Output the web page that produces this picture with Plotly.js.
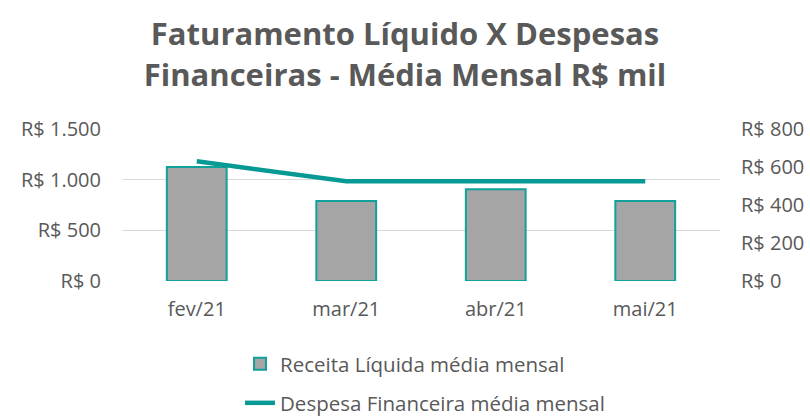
<!DOCTYPE html>
<html><head><meta charset="utf-8">
<script src="https://cdn.plot.ly/plotly-3.0.1.min.js"></script>
<style>html,body{margin:0;padding:0;background:#fff}#c{width:810px;height:420px}</style>
</head><body><div id="c"></div>
<script>
const categories = ['fev/21', 'mar/21', 'abr/21', 'mai/21'];
const receita = [1125, 790, 905, 790];
const despesa = [630, 525, 525, 525];
const seriesNames = ['Receita Líquida média mensal', 'Despesa Financeira média mensal'];
const leftTickVals = [0, 500, 1000, 1500];
const leftTickText = ['R$ 0', 'R$ 500', 'R$ 1.000', 'R$ 1.500'];
const rightTickVals = [0, 200, 400, 600, 800];
const rightTickText = ['R$ 0', 'R$ 200', 'R$ 400', 'R$ 600', 'R$ 800'];

const grey = '#595959';
const teal = '#12A09A';
const font = 'Open Sans, sans-serif';

const data = [
  {type:'bar', x:categories, y:receita, name:seriesNames[0], width:0.4,
   marker:{color:'#A5A5A5', line:{color:teal, width:2}}, legend:'legend', hoverinfo:'skip'},
  {type:'scatter', mode:'lines', x:categories, y:despesa, name:seriesNames[1], yaxis:'y2',
   line:{color:'#079A94', width:4.5}, legend:'legend2', hoverinfo:'skip'}
];
const layout = {
  width:810, height:420,
  margin:{l:122, r:90, t:129, b:139, autoexpand:false},
  paper_bgcolor:'#fff', plot_bgcolor:'#fff',
  font:{family:font, color:grey},
  title:{text:'Faturamento Líquido X Despesas<br>Financeiras - Média Mensal R$ mil',
    font:{family:font, size:31, color:grey, weight:'bold'}, x:0.5, xanchor:'center', y:0.892, yanchor:'middle'},
  bargap:0.6,
  xaxis:{type:'category', tickfont:{size:20, color:grey}, showline:false, showgrid:false, ticks:'', ticklabelstandoff:14},
  yaxis:{range:[0,1500], tickmode:'array', tickvals:leftTickVals, ticktext:leftTickText,
    tickfont:{size:20, color:grey}, gridcolor:'#D9D9D9', gridwidth:1, zeroline:false, showline:false, ticklabelstandoff:20},
  yaxis2:{overlaying:'y', side:'right', range:[0,800], tickmode:'array', tickvals:rightTickVals, ticktext:rightTickText,
    tickfont:{size:20, color:grey}, showgrid:false, zeroline:false, showline:false, ticklabelstandoff:20},
  showlegend:true,
  legend:{x:240/810, xref:'container', xanchor:'left', y:1-364/420, yref:'container', yanchor:'middle', font:{size:20.5, color:grey}, bgcolor:'rgba(0,0,0,0)'},
  legend2:{x:240/810, xref:'container', xanchor:'left', y:1-403/420, yref:'container', yanchor:'middle', font:{size:20.5, color:grey}, bgcolor:'rgba(0,0,0,0)'}
};
Plotly.newPlot('c', data, layout, {displayModeBar:false, staticPlot:true});
</script></body></html>
